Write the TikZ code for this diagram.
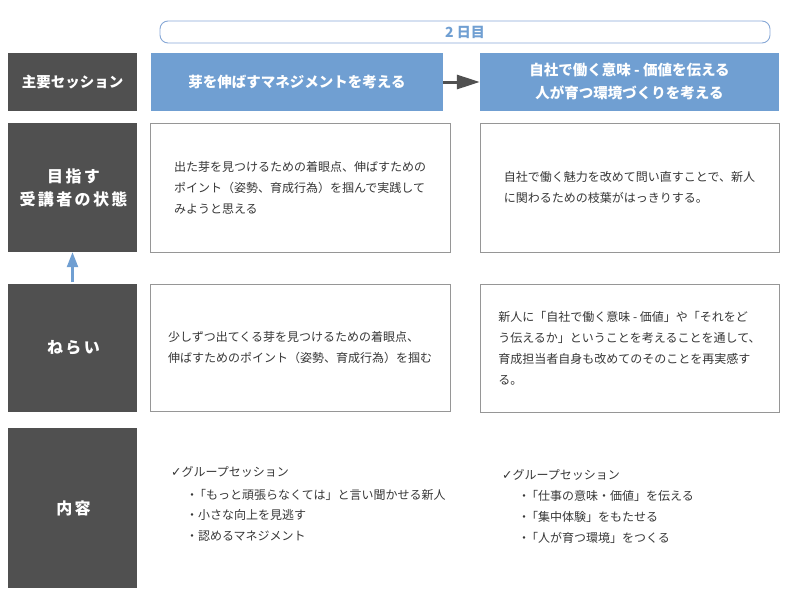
\documentclass[tikz,border=0pt]{standalone}
\usepackage{fontspec}
\setmainfont{Noto Sans CJK JP}
\newfontfamily\symfont{DejaVu Sans}
\usetikzlibrary{arrows.meta}
\definecolor{darkbox}{RGB}{80,80,80}
\definecolor{bluebox}{RGB}{112,159,210}
\definecolor{pillline}{RGB}{135,168,214}
\definecolor{txt}{RGB}{55,55,55}
\definecolor{boxline}{RGB}{150,150,150}
\tikzset{
  rowlabel/.style={fill=darkbox, text=white, align=center, minimum width=129pt, inner sep=0pt,
    font=\fontsize{16}{23}\selectfont\bfseries\addfontfeatures{LetterSpace=15}},
  sessionbox/.style={fill=bluebox, text=white, align=center, inner sep=0pt,
    font=\fontsize{14.5}{23}\selectfont\bfseries},
  goalbox/.style={draw=boxline, line width=0.8pt, fill=white, text=txt, align=left, inner sep=0pt,
    font=\fontsize{12}{21}\selectfont},
  listline/.style={anchor=west, inner sep=0pt, text=txt, font=\fontsize{12}{21}\selectfont},
}
\newcommand{\chk}{{\symfont\fontsize{12.5}{12}\selectfont ✓}}
\newcommand{\blt}{・\kern-4pt}
\begin{document}
\begin{tikzpicture}[x=1pt,y=-1pt]
\useasboundingbox (0,0) rectangle (800,606);
% day pill
\node[draw=pillline, line width=0.9pt, rounded corners=8pt, minimum width=610pt, minimum height=22pt,
  inner sep=0pt, text=bluebox, font=\fontsize{14}{14}\selectfont\bfseries] (day) at (465,32) {2 日目};
% row labels
\node[rowlabel, minimum height=58pt, font=\fontsize{14.5}{18}\selectfont\bfseries] (h1) at (72.5,82) {主要セッション};
\node[rowlabel, minimum height=129pt] (h2) at (72.5,187.5) {\hspace*{2pt}目指す\\\hspace*{2pt}受講者の状態};
\node[rowlabel, minimum height=128pt] (h3) at (72.5,348) {\hspace*{2pt}ねらい};
\node[rowlabel, minimum height=160pt] (h4) at (72.5,508) {\hspace*{2pt}内容};
% sessions
\node[sessionbox, minimum width=292pt, minimum height=58pt] (s1) at (297,82) {芽を伸ばすマネジメントを考える};
\node[sessionbox, minimum width=299pt, minimum height=58pt] (s2) at (629.5,82) {自社で働く意味 - 価値を伝える\\人が育つ環境づくりを考える};
% goals
\node[goalbox, minimum width=300pt, minimum height=129pt] (g1) at (300,187.5)
  {出た芽を見つけるための着眼点、伸ばすための\\ポイント（姿勢、育成行為）を掴んで実践して\\みようと思える};
\node[goalbox, minimum width=299pt, minimum height=129pt] (g2) at (629.5,187.5)
  {自社で働く魅力を改めて問い直すことで、新人\\に関わるための枝葉がはっきりする。};
% aims
\node[goalbox, minimum width=300pt, minimum height=127pt] (n1) at (300,347.5)
  {少しずつ出てくる芽を見つけるための着眼点、\\伸ばすためのポイント（姿勢、育成行為）を掴む};
\node[goalbox, minimum width=299pt, minimum height=128pt] (n2) at (629.5,348)
  {新人に「自社で働く意味 - 価値」や「それをど\\う伝えるか」ということを考えることを通して、\\育成担当者自身も改めてのそのことを再実感す\\る。};
% contents
\node[listline] (l1) at (171,472) {\chk グループセッション};
\node[listline] (l2) at (186,495) {\blt「もっと頑張らなくては」と言い聞かせる新人};
\node[listline] (l3) at (186,515) {・小さな向上を見逃す};
\node[listline] (l4) at (186,536) {・認めるマネジメント};
\node[listline] (r1) at (502,475) {\chk グループセッション};
\node[listline] (r2) at (518,496) {\blt「仕事の意味・価値」を伝える};
\node[listline] (r3) at (518,517) {\blt「集中体験」をもたせる};
\node[listline] (r4) at (518,538) {\blt「人が育つ環境」をつくる};
% arrows
\draw[-{Triangle[length=23pt,width=14pt]}, line width=3pt, darkbox] (s1.east) -- (s2.west);
\draw[-{Triangle[length=15pt,width=11pt]}, line width=2.5pt, bluebox, shorten <=1.5pt] (h3.north) -- (h2.south);
\end{tikzpicture}
\end{document}
